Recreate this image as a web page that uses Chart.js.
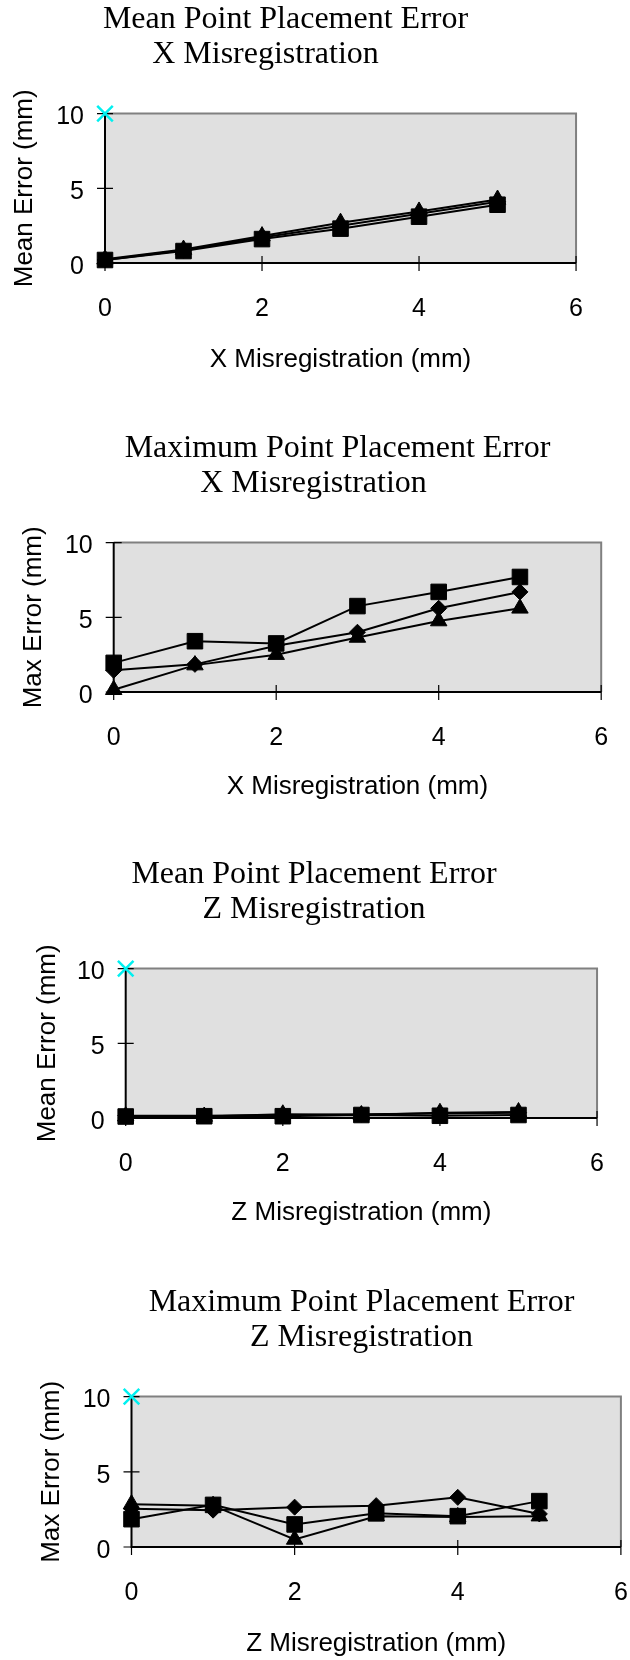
<!DOCTYPE html>
<html>
<head>
<meta charset="utf-8">
<script src="https://cdn.jsdelivr.net/npm/chart.js@4.4.1/dist/chart.umd.min.js"></script>
<style>
html, body { margin:0; padding:0; width:630px; height:1660px; overflow:hidden; background:#ffffff; position:relative; }
canvas { position:absolute; }
</style>
</head>
<body>
<canvas id="c1"></canvas>
<canvas id="c2"></canvas>
<canvas id="c3"></canvas>
<canvas id="c4"></canvas>
<script>
// ---------- data ----------
const xPositions = [0, 1, 2, 3, 4, 5];
const xTickValues = [0, 2, 4, 6];
const yTickValues = [0, 5, 10];
const anchorX = [0];
const anchorY = [10];

// Mean point placement error, X misregistration
const meanXDiamond  = [0.2, 0.85, 1.7, 2.5, 3.3, 4.1];
const meanXSquare   = [0.2, 0.8, 1.6, 2.3, 3.1, 3.9];
const meanXTriangle = [0.25, 0.9, 1.8, 2.7, 3.45, 4.25];

// Maximum point placement error, X misregistration
const maxXDiamond  = [1.45, 1.85, 3.1, 4.0, 5.6, 6.7];
const maxXSquare   = [1.95, 3.4, 3.25, 5.75, 6.7, 7.7];
const maxXTriangle = [0.15, 1.8, 2.5, 3.65, 4.75, 5.6];

// Mean point placement error, Z misregistration
const meanZDiamond  = [0.15, 0.15, 0.2, 0.25, 0.3, 0.35];
const meanZSquare   = [0.1, 0.12, 0.12, 0.2, 0.15, 0.2];
const meanZTriangle = [0.12, 0.1, 0.25, 0.2, 0.35, 0.4];

// Maximum point placement error, Z misregistration
const maxZDiamond  = [2.55, 2.45, 2.65, 2.75, 3.3, 2.2];
const maxZSquare   = [1.85, 2.8, 1.5, 2.25, 2.05, 3.05];
const maxZTriangle = [2.85, 2.75, 0.5, 2.05, 2.0, 2.05];

const titleMean = "Mean Point Placement Error";
const titleMax = "Maximum Point Placement Error";
const subX = "X Misregistration";
const subZ = "Z Misregistration";
const xLabelX = "X Misregistration (mm)";
const xLabelZ = "Z Misregistration (mm)";
const yLabelMean = "Mean Error (mm)";
const yLabelMax = "Max Error (mm)";

// ---------- styling / layout ----------
const SANS = "'Liberation Sans', Arial, sans-serif";
const SERIF = "'Liberation Serif', 'Times New Roman', serif";
const TITLE_SIZE = 32, TITLE_LH = 1.1, TITLE_PB = 41.2;
const AX_FONT = 26, TICK_FONT = 25, XH = 115, PR = 20;

function pts(ys) { return xPositions.map((x, i) => ({ x: x, y: ys[i] })); }

const framePlugin = {
  id: 'frame',
  beforeDatasetsDraw(chart) {
    const ctx = chart.ctx;
    const a = chart.chartArea;
    const xs = chart.scales.x, ys = chart.scales.y;
    ctx.save();
    ctx.fillStyle = '#e0e0e0';
    ctx.fillRect(a.left, a.top, a.right - a.left, a.bottom - a.top);
    ctx.lineWidth = 2;
    ctx.strokeStyle = '#808080';
    ctx.beginPath();
    ctx.moveTo(a.left, a.top); ctx.lineTo(a.right, a.top); ctx.lineTo(a.right, a.bottom);
    ctx.stroke();
    ctx.strokeStyle = '#000000';
    ctx.beginPath();
    ctx.moveTo(a.left, a.top); ctx.lineTo(a.left, a.bottom); ctx.lineTo(a.right, a.bottom);
    ctx.stroke();
    ctx.lineWidth = 1.2;
    ctx.beginPath();
    xs.ticks.forEach(t => {
      const px = xs.getPixelForValue(t.value);
      ctx.moveTo(px, a.bottom - 7); ctx.lineTo(px, a.bottom + 8);
    });
    ys.ticks.forEach(t => {
      const py = ys.getPixelForValue(t.value);
      ctx.moveTo(a.left - 8, py); ctx.lineTo(a.left + 8, py);
    });
    ctx.stroke();
    ctx.restore();
  }
};

function makeChart(id, spec) {
  const p = spec.plot;
  let S = spec.yTitleX - 20;
  let R = 2 * spec.titleCenter - S - p.r;
  if (R < 0) { S = 2 * spec.titleCenter - p.r; R = 0; }
  S = Math.round(S);
  R = 2 * spec.titleCenter - S - p.r;
  if (R < 0) R = 0;
  const titleH = TITLE_SIZE * TITLE_LH * 2 + TITLE_PB;
  const T = Math.round(p.t - titleH);
  const W = Math.round(p.r + R + PR - S);
  const H = Math.round(p.b + XH - T);
  const cv = document.getElementById(id);
  cv.width = W; cv.height = H;
  cv.style.left = S + 'px'; cv.style.top = T + 'px';
  cv.style.width = W + 'px'; cv.style.height = H + 'px';

  const common = {
    borderColor: '#000000', backgroundColor: '#000000', borderWidth: 2,
    pointBackgroundColor: '#000000', pointBorderColor: '#000000', pointBorderWidth: 1,
    tension: 0, fill: false, clip: false, showLine: true
  };
  const datasets = [];
  if (spec.anchor) {
    datasets.push({
      label: 'anchor', data: anchorX.map((x, i) => ({ x: x, y: anchorY[i] })),
      showLine: false, pointStyle: 'crossRot', pointRadius: 11,
      pointBorderColor: '#00f0f0', pointBackgroundColor: '#00f0f0', pointBorderWidth: 2.5, clip: false
    });
  }
  datasets.push(Object.assign({}, common, { label: 'Series 2', data: pts(spec.square), pointStyle: 'rect', pointRadius: 11 }));
  datasets.push(Object.assign({}, common, { label: 'Series 3', data: pts(spec.triangle), pointStyle: 'triangle', pointRadius: 9.5 }));
  datasets.push(Object.assign({}, common, { label: 'Series 1', data: pts(spec.diamond), pointStyle: 'rectRot', pointRadius: 8 }));

  return new Chart(cv, {
    type: 'line',
    data: { datasets: datasets },
    plugins: [framePlugin],
    options: {
      responsive: false, animation: false, devicePixelRatio: 1,
      layout: { padding: { left: 0, right: PR, top: 0, bottom: 0 } },
      plugins: {
        legend: { display: false },
        tooltip: { enabled: false },
        title: {
          display: true, text: spec.title, color: '#000000',
          font: { family: SERIF, size: TITLE_SIZE, weight: 'normal', lineHeight: TITLE_LH },
          padding: { top: 0, bottom: TITLE_PB }
        }
      },
      scales: {
        x: {
          type: 'linear', position: 'bottom', min: 0, max: 6,
          afterBuildTicks: s => { s.ticks = xTickValues.map(v => ({ value: v })); },
          afterFit: s => { s.height = XH; },
          grid: { display: false, drawTicks: false },
          border: { display: false },
          ticks: { padding: 31, color: '#000000', font: { family: SANS, size: TICK_FONT }, maxRotation: 0, autoSkip: false },
          title: { display: true, text: spec.xLabel, color: '#000000', font: { family: SANS, size: AX_FONT },
                   padding: { top: 0, bottom: p.b + XH - (AX_FONT * 1.2) / 2 - spec.xTitleY } }
        },
        y: {
          type: 'linear', position: 'left', min: 0, max: 10,
          afterBuildTicks: s => { s.ticks = yTickValues.map(v => ({ value: v })); },
          afterFit: s => { s.width = p.l - S; },
          grid: { display: false, drawTicks: false },
          border: { display: false },
          ticks: { padding: 21, labelOffset: 4, color: '#000000', font: { family: SANS, size: TICK_FONT } },
          title: { display: true, text: spec.yLabel, color: '#000000', font: { family: SANS, size: AX_FONT },
                   padding: { top: spec.yTitleX - S - (AX_FONT * 1.2) / 2, bottom: 0 } }
        },
        y2: {
          type: 'linear', position: 'right', display: true,
          afterFit: s => { s.width = R; },
          grid: { display: false, drawTicks: false },
          border: { display: false },
          ticks: { display: false },
          title: { display: false }
        }
      }
    }
  });
}

makeChart('c1', {
  plot: { l: 105, r: 594, t: 114, b: 263 }, titleCenter: 285.5, yTitleX: 25, xTitleY: 360,
  title: [titleMean, subX + "     "], xLabel: xLabelX, yLabel: yLabelMean, anchor: true,
  diamond: meanXDiamond, square: meanXSquare, triangle: meanXTriangle
});
makeChart('c2', {
  plot: { l: 113.7, r: 601, t: 542.3, b: 691.7 }, titleCenter: 337.4, yTitleX: 34, xTitleY: 786.7,
  title: [titleMax, subX + "      "], xLabel: xLabelX, yLabel: yLabelMax, anchor: false,
  diamond: maxXDiamond, square: maxXSquare, triangle: maxXTriangle
});
makeChart('c3', {
  plot: { l: 125.7, r: 614.5, t: 969, b: 1118.3 }, titleCenter: 313.9, yTitleX: 48, xTitleY: 1213,
  title: [titleMean, subZ], xLabel: xLabelZ, yLabel: yLabelMean, anchor: true,
  diamond: meanZDiamond, square: meanZSquare, triangle: meanZTriangle
});
makeChart('c4', {
  plot: { l: 131.5, r: 620.5, t: 1396.7, b: 1546.7 }, titleCenter: 361.3, yTitleX: 52, xTitleY: 1643.3,
  title: [titleMax, subZ], xLabel: xLabelZ, yLabel: yLabelMax, anchor: true,
  diamond: maxZDiamond, square: maxZSquare, triangle: maxZTriangle
});
</script>
</body>
</html>
